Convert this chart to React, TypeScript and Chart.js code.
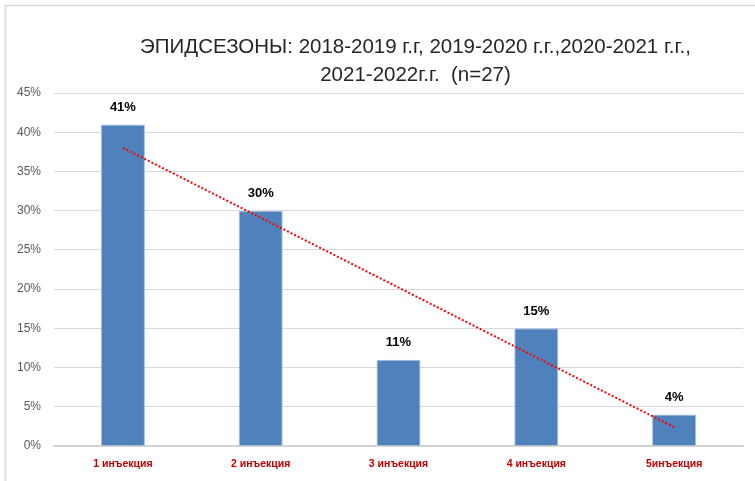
import React, { useEffect, useRef } from 'react';
import { Chart, registerables } from 'chart.js';

Chart.register(...registerables);

const categories = ['1 инъекция', '2 инъекция', '3 инъекция', '4 инъекция', '5инъекция'];
const shares = [41, 30, 11, 15, 4];
const trendLine = [38, null, null, null, 2.4];
const yTicks = [0, 5, 10, 15, 20, 25, 30, 35, 40, 45];
const titleLines = [
  'ЭПИДСЕЗОНЫ: 2018-2019 г.г, 2019-2020 г.г.,2020-2021 г.г.,',
  '2021-2022г.г.  (n=27)',
];

const W = 755;
const H = 481;

const decorPlugin = {
  id: 'decor',
  beforeDraw(chart: any) {
    const ctx = chart.ctx;
    ctx.save();
    ctx.fillStyle = '#ffffff';
    ctx.fillRect(0, 0, chart.width, chart.height);
    ctx.strokeStyle = '#d9d9d9';
    ctx.lineWidth = 1.5;
    ctx.beginPath();
    ctx.moveTo(5.5, chart.height);
    ctx.lineTo(5.5, 5.5);
    ctx.lineTo(chart.width, 5.5);
    ctx.stroke();
    ctx.restore();
  },
  afterDraw(chart: any) {
    const ctx = chart.ctx;
    const area = chart.chartArea;
    ctx.save();
    ctx.fillStyle = '#262626';
    ctx.font = '20.5px "Liberation Sans", sans-serif';
    ctx.textAlign = 'center';
    ctx.textBaseline = 'middle';
    const cx = (area.left + area.right) / 2 + 17;
    ctx.fillText(titleLines[0], cx, 47);
    ctx.fillText(titleLines[1], cx, 75);

    const meta = chart.getDatasetMeta(1);
    ctx.fillStyle = '#000000';
    ctx.font = 'bold 13px "Liberation Sans", sans-serif';
    ctx.textBaseline = 'middle';
    meta.data.forEach((bar: any, i: number) => {
      ctx.fillText(shares[i] + '%', bar.x, bar.y - 17);
    });
    ctx.restore();
  },
};

export default function App() {
  const ref = useRef<HTMLCanvasElement>(null);
  useEffect(() => {
    if (!ref.current) return;
    const chart = new Chart(ref.current, {
      type: 'bar',
      data: {
        labels: categories,
        datasets: [
          {
            type: 'line',
            label: 'trend',
            data: trendLine as any,
            borderColor: '#ff0000',
            borderWidth: 2,
            borderDash: [2, 2],
            pointRadius: 0,
            spanGaps: true,
            fill: false,
            order: 0,
          } as any,
          {
            type: 'bar',
            label: 'share',
            data: shares,
            backgroundColor: '#4f81bd',
            borderColor: '#a7bfde',
            borderWidth: 1,
            categoryPercentage: 1,
            barPercentage: 0.32,
            order: 1,
          } as any,
        ],
      },
      options: {
        animation: false,
        responsive: false,
        devicePixelRatio: 1,
        layout: { padding: { top: 93, right: 12, left: 0, bottom: 0 } },
        plugins: {
          legend: { display: false },
          title: { display: false },
          tooltip: { enabled: false },
        },
        scales: {
          x: {
            grid: { display: false, drawTicks: false },
            border: { display: true, color: '#d0d0d0', width: 1.5 },
            ticks: {
              color: '#c00000',
              font: { family: '"Liberation Sans", sans-serif', size: 10.5, weight: 'bold' },
              padding: 12,
              maxRotation: 0,
            },
            afterFit(scale: any) {
              scale.height = 35;
            },
          },
          y: {
            min: 0,
            max: 45,
            afterBuildTicks(scale: any) {
              scale.ticks = yTicks.map((v) => ({ value: v }));
            },
            grid: { color: '#d9d9d9', lineWidth: 1, drawTicks: false },
            border: { display: false },
            ticks: {
              color: '#595959',
              font: { family: '"Liberation Sans", sans-serif', size: 12 },
              padding: 13,
              callback: (v: any) => v + '%',
            },
            afterFit(scale: any) {
              scale.width = 54;
            },
          },
        },
      },
      plugins: [decorPlugin],
    });
    return () => chart.destroy();
  }, []);
  return (
    <div style={{ position: 'absolute', left: 0, top: 0, width: W, height: H }}>
      <canvas ref={ref} width={W} height={H} style={{ width: W, height: H, display: 'block' }} />
    </div>
  );
}
